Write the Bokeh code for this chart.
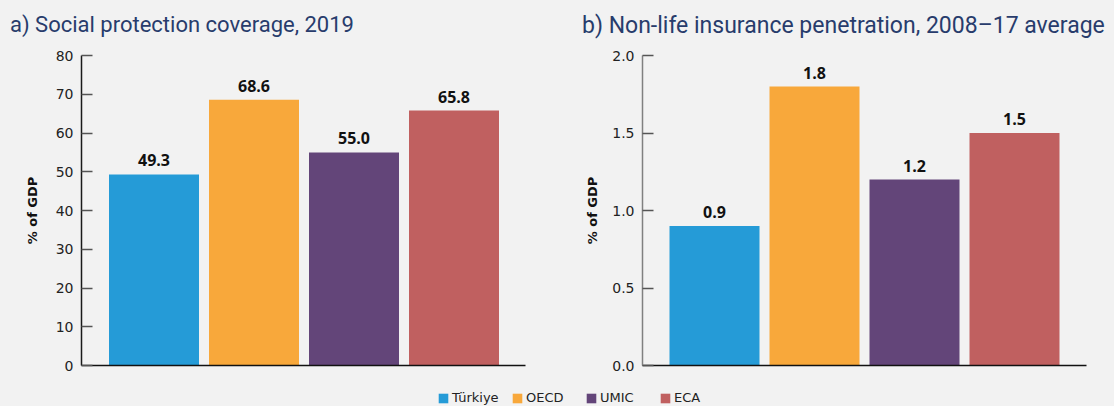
from bokeh.plotting import figure
from bokeh.models import (Range1d, ColumnDataSource, Legend, LegendItem, Div,
                          FixedTicker, NumeralTickFormatter, BasicTickFormatter)
from bokeh.layouts import column, row
from bokeh.embed import file_html
from bokeh.resources import INLINE
from bokeh.core.properties import value

# ---- data ----
categories = ["Türkiye", "OECD", "UMIC", "ECA"]
colors = ["#259bd7", "#f8a83b", "#634579", "#c06060"]
social_protection = [49.3, 68.6, 55.0, 65.8]
nonlife_insurance = [0.9, 1.8, 1.2, 1.5]
left_ticks = [0, 10, 20, 30, 40, 50, 60, 70, 80]
right_ticks = [0.0, 0.5, 1.0, 1.5, 2.0]
title_a = "a) Social protection coverage, 2019"
title_b = "b) Non-life insurance penetration, 2008\u201317 average"
y_label = "% of GDP"

BG = "#f2f2f2"
TITLE_COLOR = "#283c6c"


def title_div(text, width, size, pad_left, pad_top):
    return Div(text=text, width=width, height=47, margin=0,
               styles={"font-family": "Roboto", "font-size": size,
                       "line-height": size, "color": TITLE_COLOR,
                       "padding-left": pad_left, "padding-top": pad_top,
                       "white-space": "nowrap", "background-color": BG,
                       "box-sizing": "border-box"})


def panel(vals, ticks, ymax, width, b_left, b_right,
          yaxis_color, label_standoff, x_start, x_end, fmt):
    p = figure(width=width, height=333,
               x_range=Range1d(x_start, x_end), y_range=Range1d(0, ymax),
               output_backend="svg", toolbar_location=None,
               min_border_left=b_left, min_border_right=b_right,
               min_border_top=8, min_border_bottom=15)
    p.background_fill_color = BG
    p.border_fill_color = BG
    p.outline_line_color = None
    p.grid.visible = False

    src = ColumnDataSource(dict(
        x=list(range(len(categories))), top=vals, color=colors,
        label=[f"{v:.1f}" for v in vals]))
    p.vbar(x="x", top="top", bottom=0, width=0.9, fill_color="color",
           line_color=None, source=src)
    p.text(x="x", y="top", text="label", source=src, text_align="center",
           text_baseline="alphabetic", y_offset=-14,
           text_font=value("Open Sans"), text_font_style="bold",
           text_font_size="16px", text_color="#111111")

    ya = p.yaxis[0]
    ya.ticker = FixedTicker(ticks=ticks)
    ya.formatter = fmt
    ya.major_tick_in = 11
    ya.major_tick_out = 0
    ya.minor_tick_in = 0
    ya.minor_tick_out = 0
    ya.major_tick_line_color = "#555555"
    ya.major_tick_line_width = 1.5
    ya.axis_line_color = yaxis_color
    ya.axis_line_width = 1.5
    ya.major_label_standoff = 8
    ya.major_label_text_font = "DejaVu Sans"
    ya.major_label_text_font_size = "14px"
    ya.major_label_text_color = "#222222"
    ya.axis_label = y_label
    ya.axis_label_text_font = "DejaVu Sans"
    ya.axis_label_text_font_style = "bold"
    ya.axis_label_text_font_size = "13px"
    ya.axis_label_text_color = "#111111"
    ya.axis_label_standoff = label_standoff

    xa = p.xaxis[0]
    xa.ticker = FixedTicker(ticks=[])
    xa.major_tick_in = 0
    xa.major_tick_out = 0
    xa.minor_tick_in = 0
    xa.minor_tick_out = 0
    xa.major_label_text_font_size = "0px"
    xa.axis_line_color = "#111111"
    xa.axis_line_width = 1.5
    return p


p1 = panel(social_protection, left_ticks, 80, 560, 81, 35,
           "#1a1a1a", 13, -0.725, 3.715, BasicTickFormatter())
p2 = panel(nonlife_insurance, right_ticks, 2.0, 554, 82, 28,
           "#808080", 9, -0.72, 3.72, NumeralTickFormatter(format="0.0"))
d1 = title_div(title_a, 560, "22px", "10px", "14px")
d2 = title_div(title_b, 554, "23px", "22px", "14px")

# ---- legend strip (the bars sit far outside the view; only the legend shows) ----
lf = figure(width=1114, height=38, x_range=Range1d(1000, 1001),
            y_range=Range1d(1000, 1001),
            output_backend="svg", toolbar_location=None,
            min_border=0, min_border_left=0, min_border_right=0,
            min_border_top=0, min_border_bottom=0)
lf.background_fill_color = BG
lf.border_fill_color = BG
lf.outline_line_color = None
lf.axis.visible = False
lf.grid.visible = False
items = []
for i, (cat, col) in enumerate(zip(categories, colors)):
    src_i = ColumnDataSource(dict(x=[i], top=[social_protection[i]]))
    r = lf.vbar(x="x", top="top", bottom=0, width=0.5, fill_color=col,
                line_color=None, source=src_i)
    items.append(LegendItem(label=cat, renderers=[r]))
leg = Legend(items=items, orientation="horizontal", location=(437, 13),
             glyph_width=12, glyph_height=12, label_standoff=3, spacing=9,
             label_width=50,
             padding=0, margin=0, border_line_alpha=0, background_fill_alpha=0,
             label_text_font="DejaVu Sans", label_text_font_size="13px",
             label_text_color="#222222", label_height=12)
lf.add_layout(leg, "center")

bg = {"background-color": BG}
layout = column(row(column(d1, p1, styles=bg), column(d2, p2, styles=bg), styles=bg),
                lf, styles=bg)
open("out.html", "w").write(file_html(layout, INLINE))
